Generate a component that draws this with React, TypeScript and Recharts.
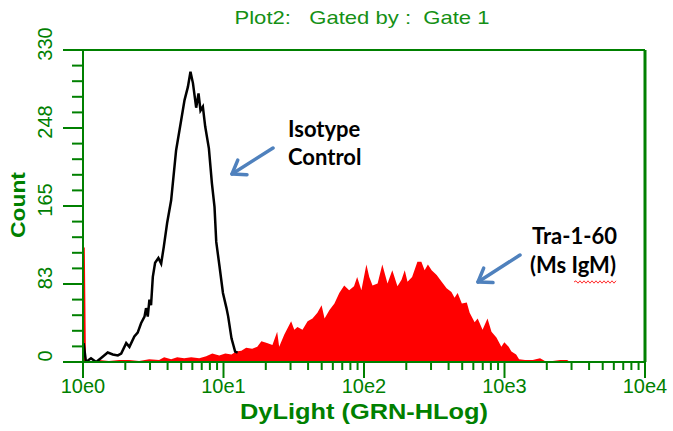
import React from "react";
import { Area, ComposedChart, Line, ReferenceLine, XAxis, YAxis } from "recharts";

const GREEN = "#008000";
const AXIS_FONT = "'Liberation Sans', Arial, sans-serif";
const NOTE_FONT = "Lato, 'Open Sans', sans-serif";
const ARROW = "#4f81bd";

// Tra-1-60 (Ms IgM) histogram: channel value, count
const traChannel = [
  1.0, 1.03, 1.05, 1.1, 1.2, 1.3, 1.53, 1.81, 2.13, 2.51, 2.96, 3.48, 3.78, 4.24, 4.68, 5.25, 5.89, 6.72,
  7.53, 8.32, 9.33, 10.3, 11.4, 12.3, 13.4, 14.5, 16.0, 17.4, 18.6, 20.4, 22.3, 24.1, 24.9, 27.1, 30.3,
  31.9, 33.6, 36.5, 39.7, 43.0, 46.6, 49.9, 52.4, 56.8, 61.6, 66.7, 72.3, 78.4, 84.9, 89.4, 95.8, 104,
  109, 115, 125, 135, 147, 159, 173, 185, 195, 204, 220, 240, 256, 270, 285, 303, 329, 357, 387, 419,
  441, 464, 497, 539, 565, 613, 644, 698, 757, 808, 876, 950, 997, 1070, 1120, 1210, 1270, 1400, 1590,
  1790, 1940, 2200, 2490, 2790, 2930
];
const traCount = [
  121, 121, 1, 1, 0, 2, 1, 2, 2, 1, 3, 2, 5, 3, 5, 4, 5, 4,
  6, 9, 7, 9, 8, 11, 12, 15, 14, 16, 22, 20, 18, 32, 16, 29, 43,
  34, 37, 34, 43, 46, 52, 60, 46, 55, 62, 73, 81, 76, 80, 90, 76, 103,
  90, 81, 83, 103, 83, 97, 80, 87, 97, 85, 90, 106, 106, 97, 103, 97, 92, 85, 78, 74,
  68, 73, 62, 63, 52, 42, 46, 34, 46, 32, 26, 16, 21, 16, 11, 8, 3, 2, 2,
  4, 1, 1, 2, 2, 0
];

// Isotype control histogram: channel value, count
const isoChannel = [
  1.01, 1.05, 1.14, 1.24, 1.34, 1.5, 1.63, 1.77, 1.87, 2.03, 2.14, 2.32, 2.45, 2.59, 2.74, 2.81, 2.89,
  2.97, 3.05, 3.14, 3.26, 3.44, 3.6, 3.76, 3.97, 4.24, 4.6, 5.0, 5.28, 5.58, 5.82, 6.06, 6.39, 6.64,
  6.86, 7.13, 7.41, 7.87, 8.27, 8.63, 8.88, 9.37, 9.91, 10.5, 10.8, 11.4, 12.1, 12.6
];
const isoCount = [
  20, 0, 4, 0, 4, 10, 8, 7, 9, 20, 16, 27, 31, 41, 48, 57, 48,
  66, 60, 90, 105, 110, 104, 122, 147, 171, 224, 256, 277, 291, 307, 295, 269, 284,
  266, 270, 249, 226, 189, 164, 127, 101, 73, 57, 48, 25, 11, 10
];

const xTicks = [
  1, 2, 3, 4, 5, 6, 7, 8, 9, 10, 20, 30, 40, 50, 60, 70, 80, 90, 100, 200, 300, 400, 500, 600, 700, 800,
  900, 1000, 2000, 3000, 4000, 5000, 6000, 7000, 8000, 9000, 10000
];
const xTickLabels: Record<number, string> = { 1: "10e0", 10: "10e1", 100: "10e2", 1000: "10e3", 10000: "10e4" };

const yTicks = [
  0, 16.5, 33, 49.5, 66, 82.5, 99, 115.5, 132, 148.5, 165, 181.5, 198, 214.5, 231, 247.5, 264, 280.5,
  297, 313.5, 330
];
const yTickLabels: Record<number, string> = { 0: "0", 82.5: "83", 165: "165", 247.5: "248", 330: "330" };

const traData = traChannel.map((ch, i) => ({ ch, count: traCount[i] }));
const isoData = isoChannel.map((ch, i) => ({ ch, count: isoCount[i] }));

function XTick({ x, y, payload }: any) {
  const label = xTickLabels[payload.value];
  return (
    <g>
      <line x1={x} x2={x} y1={y} y2={y + (label ? 16 : 8)} stroke={GREEN} strokeWidth={2} />
      {label && (
        <text x={x} y={y + 31} textAnchor="middle" fill={GREEN} fontSize={20} fontFamily={AXIS_FONT}>
          {label}
        </text>
      )}
    </g>
  );
}

function YTick({ x, y, payload }: any) {
  const label = yTickLabels[payload.value];
  return (
    <g>
      <line x1={x - (label ? 20 : 11)} x2={x} y1={y} y2={y} stroke={GREEN} strokeWidth={2} />
      {label && (
        <text
          x={45}
          y={y - 6}
          transform={`rotate(-90 45 ${y - 6})`}
          textAnchor="middle"
          dominantBaseline="central"
          fill={GREEN}
          fontSize={20}
          fontFamily={AXIS_FONT}
        >
          {label}
        </text>
      )}
    </g>
  );
}

function Arrow({ x1, y1, x2, y2 }: { x1: number; y1: number; x2: number; y2: number }) {
  const len = Math.hypot(x2 - x1, y2 - y1);
  const ux = (x1 - x2) / len;
  const uy = (y1 - y2) / len;
  const a = (35 * Math.PI) / 180;
  const h = 15;
  const p1 = [x2 + h * (ux * Math.cos(a) - uy * Math.sin(a)), y2 + h * (ux * Math.sin(a) + uy * Math.cos(a))];
  const p2 = [x2 + h * (ux * Math.cos(a) + uy * Math.sin(a)), y2 + h * (-ux * Math.sin(a) + uy * Math.cos(a))];
  return (
    <g stroke={ARROW} strokeWidth={3.5} strokeLinecap="round" strokeLinejoin="round" fill="none">
      <line x1={x1} y1={y1} x2={x2} y2={y2} />
      <polyline points={`${p1[0]},${p1[1]} ${x2},${y2} ${p2[0]},${p2[1]}`} />
    </g>
  );
}

function Squiggle({ x, y, w }: { x: number; y: number; w: number }) {
  let d = `M${x},${y}`;
  for (let i = 1; i * 2 <= w; i++) d += ` L${x + i * 2},${y + (i % 2 ? -1.2 : 1.2)}`;
  return <path d={d} stroke="#ff3030" strokeWidth={1} fill="none" />;
}

export default function App() {
  return (
    <div style={{ position: "absolute", left: 0, top: 0, width: 673, height: 431, background: "#fff" }}>
      <ComposedChart width={673} height={431} data={traData} margin={{ top: 50, right: 28, bottom: 0, left: 0 }}>
        <XAxis
          dataKey="ch"
          type="number"
          scale="log"
          domain={[1, 10000]}
          ticks={xTicks}
          interval={0}
          height={69}
          tickSize={0}
          tickMargin={0}
          tickLine={false}
          tick={<XTick />}
          axisLine={{ stroke: GREEN, strokeWidth: 2 }}
          allowDataOverflow
        />
        <YAxis
          type="number"
          domain={[0, 330]}
          ticks={yTicks}
          interval={0}
          width={83}
          tickSize={0}
          tickMargin={0}
          tickLine={false}
          tick={<YTick />}
          axisLine={{ stroke: GREEN, strokeWidth: 2 }}
          allowDataOverflow
        />
        <ReferenceLine y={330} stroke={GREEN} strokeWidth={2} />
        <ReferenceLine x={10000} stroke={GREEN} strokeWidth={3} />
        <Area
          data={traData}
          dataKey="count"
          type="linear"
          fill="#ff0000"
          fillOpacity={1}
          stroke="none"
          isAnimationActive={false}
        />
        <Line
          data={isoData}
          dataKey="count"
          type="linear"
          stroke="#000"
          strokeWidth={2.5}
          dot={false}
          isAnimationActive={false}
        />
      </ComposedChart>
      <svg width={673} height={431} style={{ position: "absolute", left: 0, top: 0, pointerEvents: "none" }}>
        <text
          x={362}
          y={24}
          textAnchor="middle"
          fill="#159015"
          fontSize={19}
          fontFamily={AXIS_FONT}
          textLength={255}
          lengthAdjust="spacingAndGlyphs"
          style={{ whiteSpace: "pre" }}
        >
          {"Plot2:   Gated by :  Gate 1"}
        </text>
        <text
          x={364}
          y={419}
          textAnchor="middle"
          fill={GREEN}
          fontSize={22}
          fontWeight="bold"
          fontFamily={AXIS_FONT}
          textLength={248}
          lengthAdjust="spacingAndGlyphs"
        >
          DyLight (GRN-HLog)
        </text>
        <text
          x={17}
          y={205}
          transform="rotate(-90 17 205)"
          textAnchor="middle"
          dominantBaseline="central"
          fill={GREEN}
          fontSize={21}
          fontWeight="bold"
          fontFamily={AXIS_FONT}
          textLength={66}
          lengthAdjust="spacingAndGlyphs"
        >
          Count
        </text>
        <g fill="#000" fontSize={22} fontWeight="bold" fontFamily={NOTE_FONT}>
          <text x={288} y={137}>Isotype</text>
          <text x={288} y={165}>Control</text>
          <text x={532} y={244}>Tra-1-60</text>
          <text x={530} y={273}>(Ms IgM)</text>
        </g>
        <Squiggle x={574} y={282} w={42} />
        <Arrow x1={273} y1={148} x2={232} y2={174} />
        <Arrow x1={520} y1={255} x2={478} y2={282} />
      </svg>
    </div>
  );
}
